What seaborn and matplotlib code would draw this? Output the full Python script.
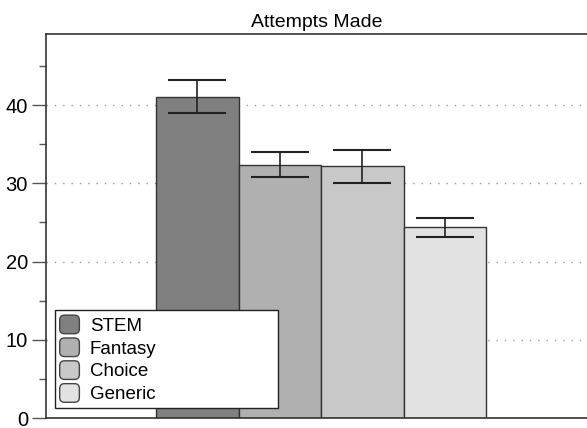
import matplotlib
matplotlib.use("Agg")
import matplotlib.pyplot as plt
from matplotlib.patches import FancyBboxPatch
from matplotlib.legend_handler import HandlerPatch
from matplotlib.ticker import MultipleLocator
import seaborn as sns
import pandas as pd

# Mean attempts per condition with standard errors
conditions = ["STEM", "Fantasy", "Choice", "Generic"]
means = [41.1, 32.4, 32.2, 24.4]
sems = [2.1, 1.55, 2.1, 1.2]
bar_colors = ["#808080", "#b0b0b0", "#c8c8c8", "#e2e2e2"]

sns.set_theme(style="white")
plt.rcParams["font.family"] = ["Liberation Sans", "DejaVu Sans"]
plt.rcParams["text.color"] = "black"
plt.rcParams["ytick.labelcolor"] = "black"

df = pd.DataFrame({"group": [""] * len(conditions), "condition": conditions, "attempts": means})

fig = plt.figure(figsize=(5.87, 4.28), dpi=100)
ax = fig.add_axes([46 / 587, 10 / 428, 541 / 587, 384 / 428])

sns.barplot(data=df, x="group", y="attempts", hue="condition", hue_order=conditions,
            palette=bar_colors, errorbar=None, width=0.8, saturation=1,
            edgecolor="#333333", linewidth=1.0, ax=ax, legend=False, zorder=2)

# error bars at the bar centres
for patch, m, s in zip(ax.patches, means, sems):
    cx = patch.get_x() + patch.get_width() / 2
    ax.errorbar(cx, m, yerr=s, color="#222222", elinewidth=1.2, capsize=21,
                capthick=1.5, zorder=3)

ax.set_xlim(-0.667, 0.645)
ax.set_ylim(0, 49.1)
ax.yaxis.set_major_locator(MultipleLocator(10))
ax.yaxis.set_minor_locator(MultipleLocator(5))
ax.tick_params(axis="y", which="major", direction="out", length=10, width=1,
               color="#555555", labelsize=14.5, labelcolor="black", pad=3, left=True)
ax.tick_params(axis="y", which="minor", direction="out", length=5, width=1,
               color="#555555", left=True)
ax.set_xticks([])
ax.set_xlabel("")
ax.set_ylabel("")

for side in ["left", "bottom", "top"]:
    ax.spines[side].set_visible(True)
    ax.spines[side].set_color("#333333")
    ax.spines[side].set_linewidth(1.2)
ax.spines["right"].set_visible(False)

ax.yaxis.grid(True, which="major", linestyle=(0, (1, 5)), color="#999999", linewidth=1.0, zorder=0)
ax.set_axisbelow(True)

ax.set_title("Attempts Made", fontsize=14, pad=5, color="black")

# legend with rounded swatches
def rounded_swatch(legend, orig_handle, xdescent, ydescent, width, height, fontsize):
    return FancyBboxPatch((-xdescent, -ydescent), width, height,
                          boxstyle="round,pad=0,rounding_size=3.5")

handles = [plt.Rectangle((0, 0), 1, 1, facecolor=c, edgecolor="#444444", linewidth=1.0)
           for c in bar_colors]
leg = ax.legend(handles, conditions, loc="lower left",
                bbox_to_anchor=(9 / 541, 10 / 384, 223 / 541, 96 / 384), mode="expand",
                borderaxespad=0, fontsize=13.5, frameon=True, fancybox=False,
                handlelength=1.05, handleheight=1.15, handletextpad=0.55,
                labelspacing=0.17, borderpad=0.25,
                handler_map={plt.Rectangle: HandlerPatch(patch_func=rounded_swatch)})
leg.get_frame().set_edgecolor("#222222")
leg.get_frame().set_linewidth(1.0)
leg.get_frame().set_facecolor("white")
leg.get_frame().set_alpha(1)
for t in leg.get_texts():
    t.set_color("black")

fig.savefig("out.png", dpi=100)
